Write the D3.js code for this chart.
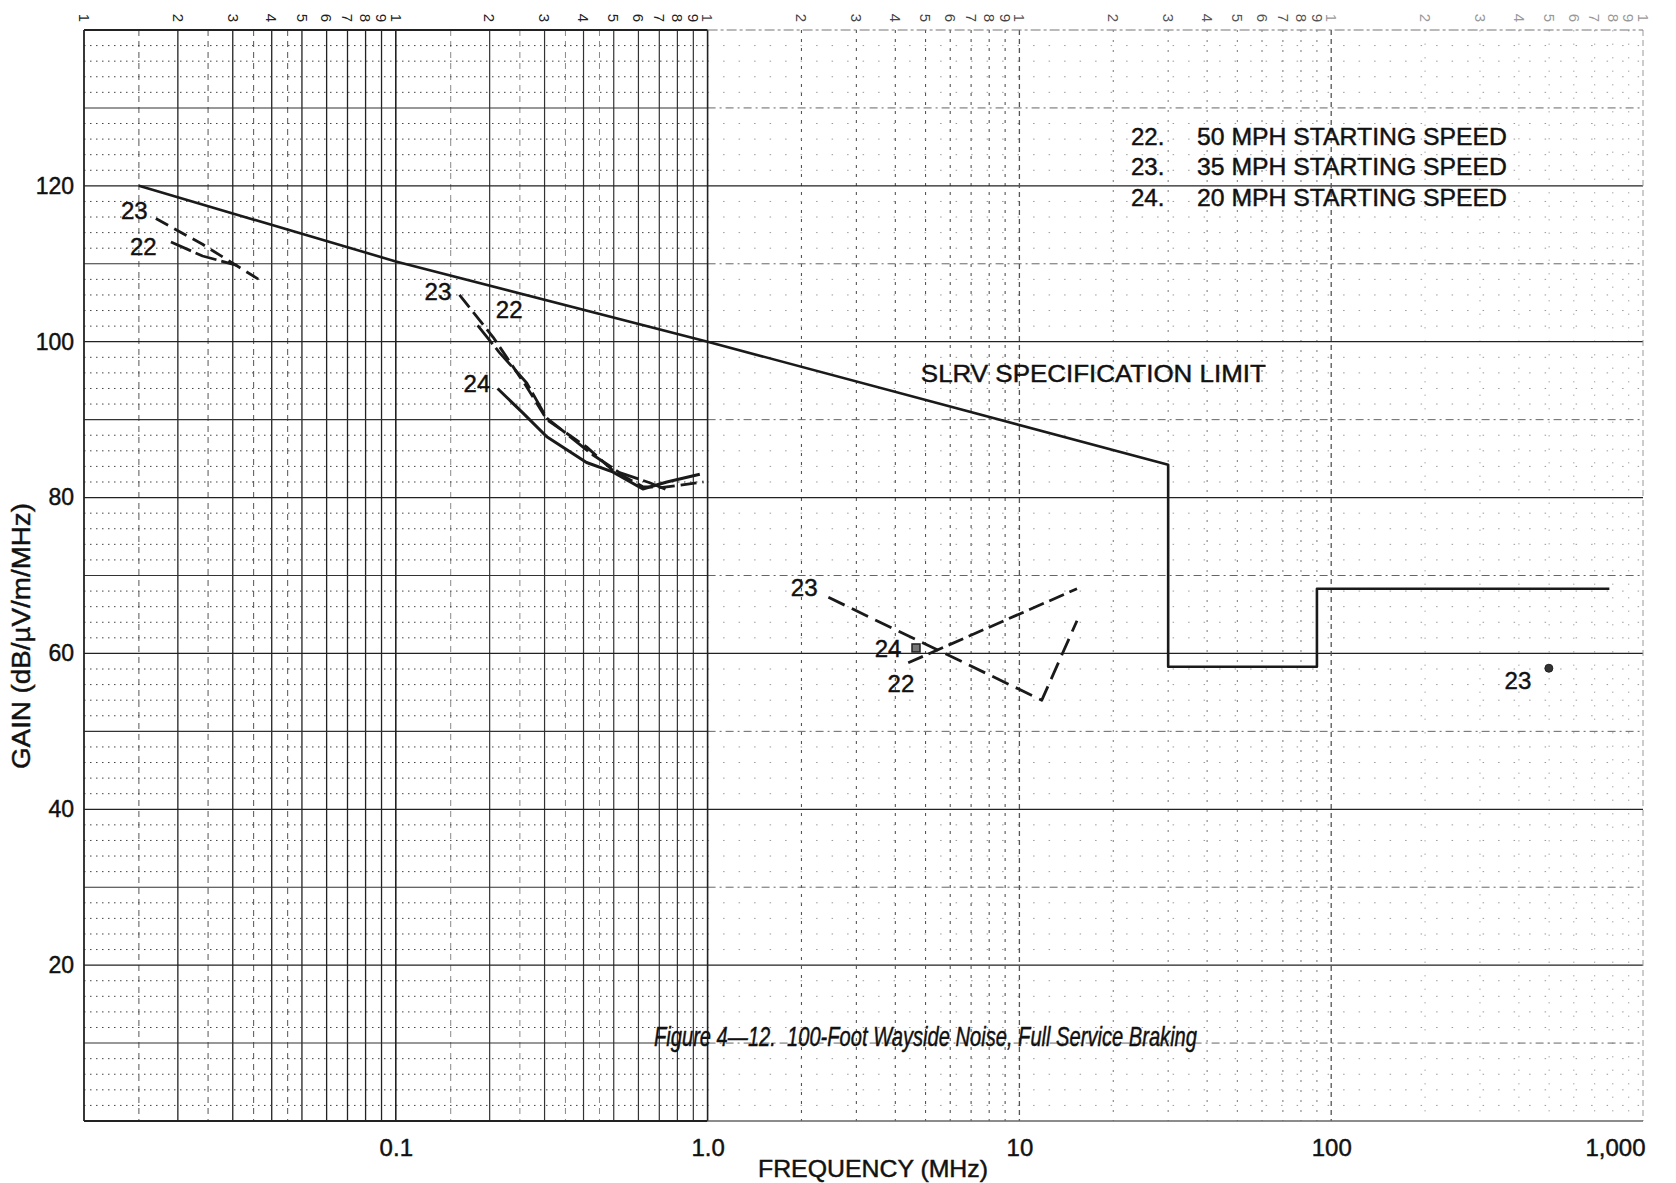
<!DOCTYPE html>
<html><head><meta charset="utf-8">
<script src="https://cdn.jsdelivr.net/npm/d3@7"></script>
<style>
html,body{margin:0;padding:0;background:#fff;}
svg{display:block;font-family:"Liberation Sans",Arial,Helvetica,sans-serif;}
svg text.heavy{stroke:#111;stroke-width:0.45px;}
</style></head><body><svg id="chart" width="1676" height="1183"></svg>
<script>
// ---------- data ----------
const xTickValues = [0.1, 1, 10, 100, 1000];
const xTickLabels = ["0.1", "1.0", "10", "100", "1,000"];
const yTickValues = [20, 40, 60, 80, 100, 120];
const topCycleDigits = ["1","2","3","4","5","6","7","8","9"];

// SLRV specification limit
const specFreq = [0.015, 0.1, 1, 30, 30, 90, 90, 780];
const specGain = [120, 110.3, 100, 84.2, 58.3, 58.3, 68.3, 68.3];

// Curve 22 (50 MPH starting speed)
const s22aFreq = [0.019, 0.024, 0.031];
const s22aGain = [112.8, 111.0, 109.8];
const s22bFreq = [0.183, 0.215, 0.263, 0.305, 0.428, 0.522, 0.652, 0.74];
const s22bGain = [102.1, 98.6, 94.7, 90.2, 85.5, 83.2, 81.9, 81.0];
const s22cFreq = [4.4, 15.3];
const s22cGain = [58.8, 68.3];

// Curve 23 (35 MPH starting speed)
const s23aFreq = [0.017, 0.024, 0.037];
const s23aGain = [115.8, 112.5, 107.8];
const s23bFreq = [0.160, 0.205, 0.263, 0.305, 0.409, 0.496, 0.62, 0.718, 0.97];
const s23bGain = [106.0, 100.6, 94.2, 90.0, 86.5, 83.5, 81.4, 81.3, 82.0];
const s23cFreq = [2.44, 11.8, 15.3];
const s23cGain = [67.2, 54.0, 64.2];
const s23dFreq = [499];
const s23dGain = [58.1];

// Curve 24 (20 MPH starting speed)
const s24aFreq = [0.212, 0.255, 0.305, 0.409, 0.496, 0.62, 0.74, 0.944];
const s24aGain = [94.0, 90.9, 87.8, 84.5, 83.3, 81.1, 82.0, 83.0];
const s24bFreq = [4.66];
const s24bGain = [60.7];

// curve number labels
const labelText = ["23", "22", "23", "22", "24", "23", "24", "22", "23"];
const labelFreq = [0.0145, 0.0155, 0.1365, 0.231, 0.182, 2.04, 3.79, 4.17, 397];
const labelGain = [116.9, 112.2, 106.5, 104.2, 94.7, 68.5, 60.7, 56.1, 56.5];

const legendNums = ["22.", "23.", "24."];
const legendTexts = ["50 MPH STARTING SPEED", "35 MPH STARTING SPEED", "20 MPH STARTING SPEED"];

// ---------- layout ----------
const svg = d3.select("#chart");
const L = 84, R = 1643, T = 30, B = 1121;
const x = d3.scaleLog().domain([0.01, 1000]).range([L, R]);
const y = d3.scaleLinear().domain([0, 140]).range([B, T]);

const grid = svg.append("g").attr("class", "grid");

// vertical minor lines
const decStyles = [
  {c: "#222", w: 1.3, d: null},
  {c: "#333", w: 1.2, d: null},
  {c: "#555", w: 1.1, d: "3,6"},
  {c: "#777", w: 1.0, d: "2,8"},
  {c: "#aaa", w: 1.0, d: "1.5,12"}
];
for (let d = 0; d < 5; d++) {
  const base = 0.01 * Math.pow(10, d);
  const st = decStyles[d];
  for (let k = 2; k <= 9; k++) {
    grid.append("line")
      .attr("x1", x(base * k)).attr("x2", x(base * k))
      .attr("y1", y(140)).attr("y2", y(0))
      .attr("stroke", st.c).attr("stroke-width", st.w)
      .attr("stroke-dasharray", st.d);
  }
  if (d < 2) {
    [1.5, 2.5, 3.5, 4.5].forEach(k => {
      grid.append("line")
        .attr("x1", x(base * k)).attr("x2", x(base * k))
        .attr("y1", y(140)).attr("y2", y(0))
        .attr("stroke", d === 0 ? "#555" : "#888").attr("stroke-width", 1)
        .attr("stroke-dasharray", "6,5");
    });
  }
}

// horizontal lines
for (let v = 2; v < 140; v += 2) {
  const yy = y(v);
  if (v % 20 === 0) {
    grid.append("line").attr("x1", L).attr("x2", R).attr("y1", yy).attr("y2", yy)
      .attr("stroke", "#222").attr("stroke-width", 1.3);
  } else if (v % 10 === 0) {
    grid.append("line").attr("x1", L).attr("x2", x(1)).attr("y1", yy).attr("y2", yy)
      .attr("stroke", "#333").attr("stroke-width", 1.1);
    grid.append("line").attr("x1", x(1)).attr("x2", R).attr("y1", yy).attr("y2", yy)
      .attr("stroke", "#666").attr("stroke-width", 1).attr("stroke-dasharray", "8,4,2,4");
  } else {
    grid.append("line").attr("x1", L).attr("x2", x(1)).attr("y1", yy).attr("y2", yy)
      .attr("stroke", "#444").attr("stroke-width", 1).attr("stroke-dasharray", "1.5,4.5");
    grid.append("line").attr("x1", x(1)).attr("x2", R).attr("y1", yy).attr("y2", yy)
      .attr("stroke", "#999").attr("stroke-width", 1).attr("stroke-dasharray", "1.5,14");
  }
}

// decade lines
[[0.1, "#222", null, 1.6], [1, "#222", null, 1.6], [10, "#555", "5,4", 1.3], [100, "#555", "5,4", 1.3]]
  .forEach(([f, c, da, w]) => {
    grid.append("line").attr("x1", x(f)).attr("x2", x(f)).attr("y1", T).attr("y2", B)
      .attr("stroke", c).attr("stroke-width", w).attr("stroke-dasharray", da);
  });

// borders
grid.append("line").attr("x1", L).attr("x2", L).attr("y1", T).attr("y2", B).attr("stroke", "#222").attr("stroke-width", 1.8);
grid.append("line").attr("x1", R).attr("x2", R).attr("y1", T).attr("y2", B).attr("stroke", "#999").attr("stroke-width", 1).attr("stroke-dasharray", "6,4");
grid.append("line").attr("x1", L).attr("x2", x(1)).attr("y1", T).attr("y2", T).attr("stroke", "#222").attr("stroke-width", 1.8);
grid.append("line").attr("x1", x(1)).attr("x2", R).attr("y1", T).attr("y2", T).attr("stroke", "#777").attr("stroke-width", 1.2).attr("stroke-dasharray", "10,3,3,3");
grid.append("line").attr("x1", L).attr("x2", x(1)).attr("y1", B).attr("y2", B).attr("stroke", "#222").attr("stroke-width", 1.8);
grid.append("line").attr("x1", x(1)).attr("x2", R).attr("y1", B).attr("y2", B).attr("stroke", "#666").attr("stroke-width", 1.4);

// top cycle digits (graph paper printing, rotated)
const topColors = ["#222", "#222", "#444", "#555", "#999"];
for (let d = 0; d < 5; d++) {
  const base = 0.01 * Math.pow(10, d);
  topCycleDigits.forEach((t, i) => {
    const xx = x(base * (i + 1));
    svg.append("text").text(t)
      .attr("transform", `translate(${xx},${T - 12}) rotate(90)`)
      .attr("text-anchor", "middle").attr("dy", "0.35em")
      .attr("font-size", 15).attr("fill", topColors[d]);
  });
}
svg.append("text").text("1")
  .attr("transform", `translate(${x(1000)},${T - 12}) rotate(90)`)
  .attr("text-anchor", "middle").attr("dy", "0.35em")
  .attr("font-size", 15).attr("fill", "#999");

// axes
const yAxis = d3.axisLeft(y).tickValues(yTickValues).tickSize(0).tickPadding(10).tickFormat(d3.format("d"));
const gy = svg.append("g").attr("transform", `translate(${L},0)`).call(yAxis);
gy.select(".domain").remove();
gy.selectAll("text").attr("class", "heavy").attr("font-size", 23).attr("fill", "#111")
  .attr("font-family", "'Liberation Sans',Arial,sans-serif");

const xAxis = d3.axisBottom(x).tickValues(xTickValues).tickSize(0).tickPadding(18)
  .tickFormat((d, i) => xTickLabels[i]);
const gx = svg.append("g").attr("transform", `translate(0,${B})`).call(xAxis);
gx.select(".domain").remove();
gx.selectAll("text").attr("class", "heavy").attr("font-size", 24).attr("fill", "#111")
  .attr("font-family", "'Liberation Sans',Arial,sans-serif");
gx.selectAll(".tick").filter(d => d === 1000).select("text").attr("text-anchor", "end").attr("dx", 2);

svg.append("text").text("FREQUENCY (MHz)").attr("class", "heavy")
  .attr("x", 873).attr("y", 1177).attr("text-anchor", "middle")
  .attr("font-size", 24).attr("fill", "#111").attr("textLength", 230).attr("lengthAdjust", "spacingAndGlyphs");

svg.append("text").text("GAIN (dB/\u00B5V/m/MHz)").attr("class", "heavy")
  .attr("transform", "translate(30,636) rotate(-90)").attr("text-anchor", "middle")
  .attr("font-size", 25).attr("fill", "#111").attr("textLength", 266).attr("lengthAdjust", "spacingAndGlyphs");

// ---------- data lines ----------
const line = d3.line().x(d => x(d[0])).y(d => y(d[1]));
const zip = (a, b) => a.map((v, i) => [v, b[i]]);
const curves = [
  {f: specFreq, g: specGain, dash: null, w: 2.6},
  {f: s23aFreq, g: s23aGain, dash: "14,7", w: 2.8},
  {f: s22aFreq, g: s22aGain, dash: "22,5", w: 2.8},
  {f: s23bFreq, g: s23bGain, dash: "16,6", w: 2.8},
  {f: s22bFreq, g: s22bGain, dash: "24,5", w: 2.8},
  {f: s24aFreq, g: s24aGain, dash: null, w: 3},
  {f: s23cFreq, g: s23cGain, dash: "18,8", w: 2.8},
  {f: s22cFreq, g: s22cGain, dash: "16,6", w: 2.8}
];
const gl = svg.append("g").attr("fill", "none").attr("stroke", "#1a1a1a").attr("stroke-linejoin", "round");
curves.forEach(c => {
  gl.append("path").attr("d", line(zip(c.f, c.g)))
    .attr("stroke-width", c.w).attr("stroke-dasharray", c.dash);
});

// markers
svg.selectAll("rect.m24").data(zip(s24bFreq, s24bGain)).join("rect").attr("class", "m24")
  .attr("x", d => x(d[0]) - 4).attr("y", d => y(d[1]) - 4).attr("width", 8).attr("height", 8)
  .attr("fill", "#777").attr("stroke", "#222").attr("stroke-width", 1.5);
svg.selectAll("circle.m23").data(zip(s23dFreq, s23dGain)).join("circle").attr("class", "m23")
  .attr("cx", d => x(d[0])).attr("cy", d => y(d[1])).attr("r", 4)
  .attr("fill", "#333").attr("stroke", "#222").attr("stroke-width", 1);

// curve labels
labelText.forEach((t, i) => {
  svg.append("text").text(t).attr("class", "heavy")
    .attr("x", x(labelFreq[i])).attr("y", y(labelGain[i])).attr("dy", "0.36em")
    .attr("text-anchor", "middle").attr("font-size", 24).attr("fill", "#111");
});

svg.append("text").text("SLRV SPECIFICATION LIMIT").attr("class", "heavy")
  .attr("x", x(4.83)).attr("y", y(95.9)).attr("dy", "0.36em")
  .attr("font-size", 24).attr("fill", "#111").attr("textLength", 345).attr("lengthAdjust", "spacingAndGlyphs");

// legend
legendNums.forEach((n, i) => {
  const yy = 136 + i * 30.5;
  svg.append("text").text(n).attr("class", "heavy").attr("x", 1131).attr("y", yy).attr("dy", "0.36em")
    .attr("font-size", 24).attr("fill", "#111");
  svg.append("text").text(legendTexts[i]).attr("class", "heavy").attr("x", 1197).attr("y", yy).attr("dy", "0.36em")
    .attr("font-size", 24).attr("fill", "#111").attr("textLength", 310).attr("lengthAdjust", "spacingAndGlyphs");
});

// caption
svg.append("text").text("Figure 4\u201412.  100-Foot Wayside Noise, Full Service Braking").attr("class", "heavy")
  .attr("x", 654).attr("y", 1036).attr("dy", "0.36em")
  .attr("font-size", 27).attr("font-style", "italic").attr("fill", "#111")
  .attr("textLength", 543).attr("lengthAdjust", "spacingAndGlyphs").attr("xml:space", "preserve");
</script></body></html>
